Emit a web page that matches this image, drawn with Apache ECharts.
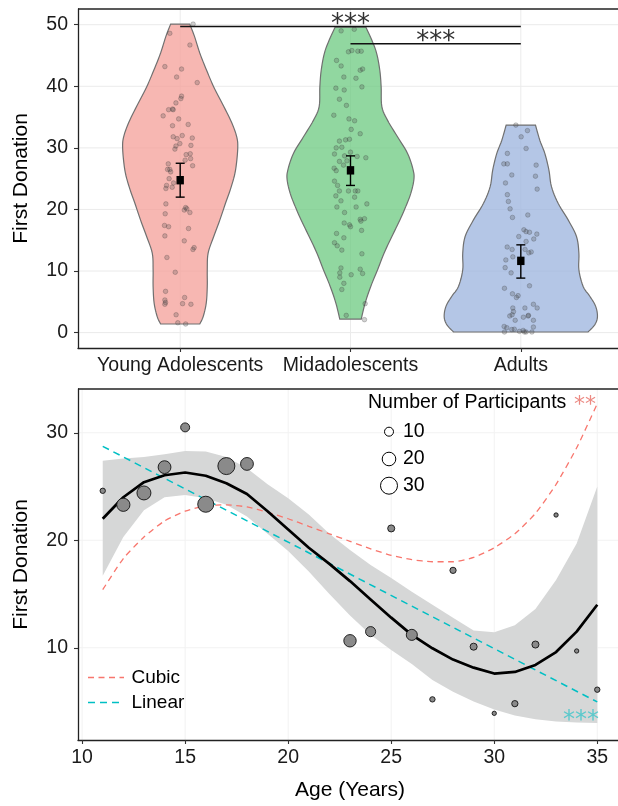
<!DOCTYPE html>
<html><head><meta charset="utf-8">
<script src="https://cdn.jsdelivr.net/npm/echarts@6/dist/echarts.min.js"></script>
<style>html,body{margin:0;padding:0;background:#fff;overflow:hidden}#c{width:626px;height:806px}</style>
</head><body><div id="c"></div>
<script>
// ================= TOP PANEL DATA =================
const groups = ['Young Adolescents', 'Midadolescents', 'Adults'];
const yTicksTop = [0, 10, 20, 30, 40, 50];
// violin half-width profiles [value, half width in category units]
const violinYoung = [[1.4,0.115],[2.6,0.135],[4.8,0.153],[7.5,0.159],[10.2,0.159],[12.9,0.164],[15.6,0.197],[18.3,0.233],[21,0.266],[23.7,0.3],[26.4,0.325],[30,0.338],[32,0.33],[34.5,0.296],[37.2,0.247],[39.9,0.197],[42.6,0.155],[45.4,0.115],[48.1,0.084],[50.1,0.056]];
const violinMid = [[2.2,0.063],[4.8,0.086],[7.5,0.119],[10.2,0.159],[12.9,0.197],[15.6,0.243],[18.3,0.29],[20.5,0.325],[22.6,0.354],[24.8,0.372],[26.4,0.368],[29.1,0.335],[31.8,0.276],[34.5,0.217],[36.7,0.184],[39.9,0.18],[42.6,0.172],[45.4,0.153],[47.5,0.125],[49.6,0.09]];
const violinAdult = [[0.1,0.395],[1.3,0.435],[2.6,0.45],[4.3,0.439],[5.9,0.405],[7.5,0.366],[10.2,0.341],[12.9,0.341],[15.6,0.327],[18.3,0.278],[21,0.219],[23.7,0.18],[26.4,0.165],[29.1,0.141],[31.2,0.112],[33.7,0.086]];
// jittered individual donations [jitter offset, value]
const youngPts = [[0.076,50.1],[-0.061,48.6],[0.057,46.7],[-0.09,43.2],[0.008,42.8],[-0.021,41.5],[0.1,40.6],[0.008,38.4],[0.004,38.0],[-0.025,37.3],[-0.045,36.3],[-0.068,36.2],[-0.041,36.2],[-0.1,35.2],[-0.009,34.7],[-0.045,33.6],[0.047,33.8],[-0.041,31.8],[-0.018,31.5],[0.012,32.0],[0.071,31.6],[-0.002,30.7],[0.063,30.4],[-0.025,30.3],[-0.031,29.8],[0.035,28.9],[0.059,29.05],[0.061,28.25],[0.029,28.0],[0.073,27.1],[-0.07,27.4],[-0.061,26.5],[-0.074,26.5],[-0.056,26.1],[-0.065,25.0],[-0.039,24.3],[-0.08,23.9],[-0.047,23.6],[-0.084,23.4],[-0.084,20.9],[0.032,20.3],[0.039,20.1],[0.024,19.9],[0.057,19.5],[-0.088,19.3],[-0.092,17.4],[-0.068,17.2],[0.049,16.9],[-0.09,15.7],[0.024,14.9],[0.082,13.8],[0.075,13.5],[-0.078,12.2],[-0.029,9.8],[-0.086,6.7],[0.026,5.7],[-0.09,5.3],[-0.086,4.9],[-0.09,4.6],[0.014,4.7],[0.063,4.6],[-0.024,2.9],[-0.014,1.6],[0.032,1.4]];
const midPts = [[-0.055,49.0],[0.022,49.25],[-0.012,45.6],[0.008,45.8],[0.043,45.7],[0.063,45.7],[-0.082,44.2],[-0.055,43.3],[0.057,42.6],[0.071,42.8],[-0.039,41.5],[0.032,41.3],[-0.086,39.7],[-0.037,39.4],[0.067,39.9],[-0.065,37.9],[-0.024,36.9],[-0.098,35.3],[-0.009,34.7],[0.024,34.4],[0.004,33.0],[0.057,32.3],[-0.065,31.1],[-0.029,31.3],[-0.006,31.4],[-0.051,30.1],[-0.084,30.0],[0.0,29.3],[-0.094,29.0],[-0.035,28.7],[0.039,28.6],[0.09,28.4],[-0.065,27.8],[-0.096,26.7],[-0.084,26.3],[-0.041,27.2],[-0.021,27.9],[-0.094,24.6],[-0.076,23.9],[-0.065,23.0],[-0.086,22.2],[-0.012,23.0],[0.028,23.0],[0.043,23.0],[-0.056,21.4],[0.024,22.0],[-0.08,20.4],[0.033,20.4],[0.096,20.9],[-0.035,19.5],[0.057,18.4],[0.082,18.5],[0.061,18.1],[-0.006,17.5],[0.0,17.2],[-0.037,17.8],[0.065,16.6],[-0.082,16.1],[-0.039,15.4],[-0.094,14.6],[-0.078,14.1],[-0.051,13.4],[0.067,12.8],[-0.056,10.5],[-0.063,9.7],[0.057,10.3],[0.071,9.6],[0.004,9.4],[-0.063,9.0],[-0.039,8.0],[-0.051,7.0],[0.086,4.7],[-0.025,2.8],[0.082,2.1]];
const adultPts = [[-0.029,33.7],[0.039,32.8],[0.002,31.8],[0.031,29.9],[-0.079,29.1],[-0.1,27.4],[-0.079,27.4],[0.09,27.2],[-0.053,25.6],[0.086,25.4],[-0.09,24.3],[0.096,23.3],[-0.079,22.4],[-0.073,21.3],[-0.063,20.1],[0.041,19.1],[-0.049,18.7],[0.018,16.7],[0.031,16.4],[0.051,16.3],[0.094,16.0],[-0.012,15.6],[0.076,15.2],[0.031,14.8],[-0.08,13.9],[-0.051,13.5],[0.025,13.5],[0.061,13.1],[0.047,12.95],[-0.047,12.3],[-0.088,11.8],[-0.092,10.55],[-0.057,9.7],[0.051,7.6],[-0.096,7.2],[-0.049,6.3],[-0.016,6.0],[-0.026,5.7],[-0.047,4.0],[-0.043,3.4],[0.024,4.0],[0.096,4.0],[0.074,4.6],[0.045,2.8],[-0.051,2.9],[-0.065,2.7],[0.043,2.7],[0.015,2.5],[-0.033,2.0],[0.074,2.0],[-0.098,1.0],[-0.082,0.8],[-0.038,0.55],[-0.053,0.5],[0.074,0.9],[-0.096,0.1],[-0.008,0.2],[0.014,0.35],[0.021,0.1],[0.031,0.1],[0.065,0.1]];
const groupMeans = [24.75, 26.35, 11.65];
const groupLower = [22.0, 23.9, 8.85];
const groupUpper = [27.5, 28.7, 14.25];
const sigFrom = [1, 2];
const sigTo = [3, 3];
const sigY = [49.7, 46.9];
const sigLabel = ['***', '***'];

// ================= BOTTOM PANEL DATA =================
const ages = [11,12,13,14,15,16,17,18,23,24,25,26,27,28,29,30,31,32,33,34,35];
const meanDonation = [24.6,23.3,24.4,26.8,30.5,23.35,26.9,27.1,10.65,11.5,21.1,11.2,5.2,17.2,10.1,3.9,4.8,10.3,22.35,9.7,6.1];
const nParticipants = [5,19,21,18,10,27,30,18,17,12,7,14,5,6,7,4,6,7,4,4,5];
const fitAges = [11,12,13,14,15,16,17,18,19,20,21,22,23,24,25,26,27,28,29,30,31,32,33,34,35];
const loessFit = [22.0,24.0,25.4,26.05,26.3,26.0,25.3,24.3,22.7,21.0,19.3,17.8,16.2,14.5,12.8,11.2,9.95,8.9,8.15,7.6,7.75,8.4,9.6,11.5,14.0];
const loessLower = [16.7,20.3,22.8,24.0,24.2,23.9,23.3,22.2,20.6,19.0,17.1,15.0,13.0,11.2,9.8,8.5,7.0,5.9,5.0,4.25,3.7,3.35,3.15,3.05,3.0];
const loessUpper = [27.4,27.6,27.75,28.0,28.3,28.25,27.75,26.7,25.2,23.9,22.4,20.6,19.1,17.7,16.5,15.2,14.0,12.8,11.6,11.45,12.1,13.6,16.3,19.7,25.0];
const cubicFit = [15.4,18.3,20.3,21.8,22.7,23.2,23.3,23.1,22.6,22.0,21.3,20.6,19.9,19.2,18.6,18.2,18.0,18.0,18.4,19.3,20.6,22.5,25.2,28.6,32.7];
const linearAges = [11, 35];
const linearFit = [28.74, 4.96];
const xTicksBottom = [10,15,20,25,30,35];
const yTicksBottom = [10,20,30];
const sizeLegend = [10,20,30];

// ================= STYLE =================
const FONT = "'Liberation Sans', Arial, Helvetica, sans-serif";
const violinFill = ['rgba(244,159,152,0.75)','rgba(108,202,128,0.75)','rgba(155,179,222,0.75)'];
const violins = [violinYoung, violinMid, violinAdult];
const jitters = [youngPts, midPts, adultPts];
const sizeFn = n => Math.sqrt(Math.max(10.4 * n - 23, 9));

function spline(pts, steps) {
  const out = [];
  for (let i = 0; i < pts.length - 1; i++) {
    const p0 = pts[Math.max(i - 1, 0)], p1 = pts[i], p2 = pts[i + 1], p3 = pts[Math.min(i + 2, pts.length - 1)];
    for (let s = 0; s < steps; s++) {
      const t = s / steps, t2 = t * t, t3 = t2 * t;
      out.push([0, 1].map(k => 0.5 * ((2 * p1[k]) + (-p0[k] + p2[k]) * t + (2 * p0[k] - 5 * p1[k] + 4 * p2[k] - p3[k]) * t2 + (-p0[k] + 3 * p1[k] - 3 * p2[k] + p3[k]) * t3)));
    }
  }
  out.push(pts[pts.length - 1]);
  return out;
}

const chart = echarts.init(document.getElementById('c'), null, {renderer: 'canvas'});

const axisLineStyle = {color: '#222', width: 1.3};
const tickStyle = {color: '#333', width: 1.1};
const labelBase = {fontFamily: FONT, fontSize: 19.5, color: '#1a1a1a'};

function gridLineSeries(xi, yi, values, dir, color) {
  return {
    type: 'custom', xAxisIndex: xi, yAxisIndex: yi, silent: true, z: 0,
    data: values.map(v => [v]),
    renderItem: (params, api) => {
      const cs = params.coordSys;
      const v = api.value(0);
      if (dir === 'h') {
        const y = api.coord([xi === 0 ? 1 : 20, v])[1];
        return {type: 'line', shape: {x1: cs.x, y1: y, x2: cs.x + cs.width, y2: y}, style: {stroke: color, lineWidth: 1}};
      } else {
        const x = api.coord([v, 10])[0];
        return {type: 'line', shape: {x1: x, y1: cs.y, x2: x, y2: cs.y + cs.height}, style: {stroke: color, lineWidth: 1}};
      }
    }
  };
}
function topBorderSeries(xi, yi) {
  return {
    type: 'custom', xAxisIndex: xi, yAxisIndex: yi, silent: true, z: 5, clip: false,
    data: [[0]],
    renderItem: (params) => {
      const cs = params.coordSys;
      return {type: 'line', shape: {x1: cs.x, y1: cs.y, x2: cs.x + cs.width, y2: cs.y}, style: {stroke: '#222', lineWidth: 1.3}};
    }
  };
}

const series = [];
// top grid lines
series.push(gridLineSeries(0, 0, yTicksTop, 'h', '#ebebeb'));
series.push(gridLineSeries(0, 0, [1, 2, 3], 'v', '#ebebeb'));
series.push(topBorderSeries(0, 0));
// violins
series.push({
  type: 'custom', xAxisIndex: 0, yAxisIndex: 0, silent: true, z: 1,
  data: [[0], [1], [2]],
  renderItem: (params, api) => {
    const gi = api.value(0);
    const prof = violins[gi];
    const cx = gi + 1;
    const left = prof.map(([y, w]) => api.coord([cx - w, y]));
    const right = prof.map(([y, w]) => api.coord([cx + w, y])).reverse();
    const pts = spline(left, 6).concat(spline(right, 6));
    return {type: 'polygon', shape: {points: pts}, style: {fill: violinFill[gi], stroke: '#707070', lineWidth: 1.2}};
  }
});
// jitter points
series.push({
  type: 'scatter', xAxisIndex: 0, yAxisIndex: 0, silent: true, z: 2,
  symbolSize: 4.6,
  itemStyle: {color: 'rgba(80,80,80,0.33)', borderColor: 'rgba(40,40,40,0.4)', borderWidth: 0.7},
  data: jitters.flatMap((pts, gi) => pts.map(([dx, y]) => [gi + 1 + dx, y]))
});
// means with error bars
series.push({
  type: 'custom', xAxisIndex: 0, yAxisIndex: 0, silent: true, z: 3,
  data: groupMeans.map((m, i) => [i + 1, m, groupLower[i], groupUpper[i]]),
  renderItem: (params, api) => {
    const x = api.value(0);
    const pm = api.coord([x, api.value(1)]), pl = api.coord([x, api.value(2)]), ph = api.coord([x, api.value(3)]);
    const st = {stroke: '#000', lineWidth: 1.4};
    return {type: 'group', children: [
      {type: 'line', shape: {x1: pl[0], y1: pl[1], x2: ph[0], y2: ph[1]}, style: st},
      {type: 'line', shape: {x1: ph[0] - 4.5, y1: ph[1], x2: ph[0] + 4.5, y2: ph[1]}, style: st},
      {type: 'line', shape: {x1: pl[0] - 4.5, y1: pl[1], x2: pl[0] + 4.5, y2: pl[1]}, style: st},
      {type: 'rect', shape: {x: pm[0] - 3.7, y: pm[1] - 4.2, width: 7.4, height: 8.4}, style: {fill: '#000'}}
    ]};
  }
});
// significance bars
series.push({
  type: 'custom', xAxisIndex: 0, yAxisIndex: 0, silent: true, z: 3,
  data: sigY.map((y, i) => [sigFrom[i], sigTo[i], y, i]),
  renderItem: (params, api) => {
    const a = api.coord([api.value(0), api.value(2)]);
    const b = api.coord([api.value(1), api.value(2)]);
    return {type: 'group', children: [
      {type: 'line', shape: {x1: a[0], y1: a[1], x2: b[0], y2: b[1]}, style: {stroke: '#111', lineWidth: 1.5}},
      {type: 'text', x: (a[0] + b[0]) / 2, y: a[1] - 1.5, style: {text: sigLabel[api.value(3)], font: "26px 'DejaVu Sans'", fill: '#333', textAlign: 'center', textVerticalAlign: 'middle'}}
    ]};
  }
});

// bottom grid lines
series.push(gridLineSeries(1, 1, yTicksBottom, 'h', '#f2f2f2'));
series.push(gridLineSeries(1, 1, xTicksBottom, 'v', '#f2f2f2'));
series.push(topBorderSeries(1, 1));
// loess confidence band
series.push({
  type: 'custom', xAxisIndex: 1, yAxisIndex: 1, silent: true, z: 1, clip: true,
  data: [[0]],
  renderItem: (params, api) => {
    const up = fitAges.map((a, i) => api.coord([a, loessUpper[i]]));
    const lo = fitAges.map((a, i) => api.coord([a, loessLower[i]])).reverse();
    return {type: 'polygon', shape: {points: up.concat(lo)}, style: {fill: '#d6d7d7'}};
  }
});
// cubic
series.push({
  type: 'line', xAxisIndex: 1, yAxisIndex: 1, silent: true, z: 2, symbol: 'none', smooth: 0.2,
  data: fitAges.map((a, i) => [a, cubicFit[i]]),
  lineStyle: {color: '#F8766D', width: 1.3, type: [6, 4.5]}
});
// linear
series.push({
  type: 'line', xAxisIndex: 1, yAxisIndex: 1, silent: true, z: 2, symbol: 'none',
  data: linearAges.map((a, i) => [a, linearFit[i]]),
  lineStyle: {color: '#00BFC4', width: 1.5, type: [7, 5]}
});
// loess
series.push({
  type: 'line', xAxisIndex: 1, yAxisIndex: 1, silent: true, z: 3, symbol: 'none',
  data: fitAges.map((a, i) => [a, loessFit[i]]),
  lineStyle: {color: '#000', width: 2.7}
});
// bubbles
series.push({
  type: 'scatter', xAxisIndex: 1, yAxisIndex: 1, silent: true, z: 4,
  data: ages.map((a, i) => [a, meanDonation[i], nParticipants[i]]),
  symbolSize: d => sizeFn(d[2]),
  itemStyle: {color: '#8a8a8a', borderColor: '#111', borderWidth: 0.9, opacity: 1}
});

// ---- legends / annotations as graphics ----
const graphics = [];
graphics.push({type: 'text', z: 100, left: 368, top: 393, style: {text: 'Number of Participants', font: `19.5px ${FONT}`, fill: '#000'}});
const legY = [431.7, 459, 485.7];
sizeLegend.forEach((v, i) => {
  graphics.push({type: 'circle', z: 100, shape: {cx: 389, cy: legY[i], r: sizeFn(v) / 2}, style: {fill: '#fff', stroke: '#000', lineWidth: 1}});
  graphics.push({type: 'text', z: 100, x: 403, y: legY[i], style: {text: String(v), font: `19.5px ${FONT}`, fill: '#000', textVerticalAlign: 'middle'}});
});
graphics.push({type: 'text', z: 100, x: 596, y: 405, style: {text: '**', font: "22px 'DejaVu Sans'", fill: '#EC8A83', textAlign: 'right', textVerticalAlign: 'middle'}});
graphics.push({type: 'text', z: 100, x: 599, y: 721, style: {text: '***', font: "24px 'DejaVu Sans'", fill: '#5BC9CC', textAlign: 'right', textVerticalAlign: 'middle'}});
const fitLegend = [['Cubic', '#F8766D', 677.5, [6, 4.5], 1.4], ['Linear', '#00BFC4', 702.5, [7, 5], 1.5]];
fitLegend.forEach(([t, c, y, dash, w]) => {
  graphics.push({type: 'line', z: 100, shape: {x1: 88, y1: y, x2: 124, y2: y}, style: {stroke: c, lineWidth: w, lineDash: dash}});
  graphics.push({type: 'text', z: 100, x: 131.5, y: y, style: {text: t, font: `19px ${FONT}`, fill: '#000', textVerticalAlign: 'middle'}});
});

const option = {
  animation: false,
  backgroundColor: '#fff',
  grid: [
    {left: 78, top: 9, width: 545, height: 339, show: false},
    {left: 78, top: 389, width: 544, height: 351, show: false}
  ],
  xAxis: [
    {gridIndex: 0, type: 'value', min: 0.4, max: 3.6,
      axisLine: {show: true, onZero: false, lineStyle: axisLineStyle},
      axisTick: {show: true, customValues: [1, 2, 3], length: 4, lineStyle: tickStyle},
      axisLabel: {show: true, customValues: [1, 2, 3], formatter: v => groups[Math.round(v) - 1], margin: 8, ...labelBase},
      splitLine: {show: false}},
    {gridIndex: 1, type: 'value', min: 9.8, max: 36.2,
      axisLine: {show: true, onZero: false, lineStyle: axisLineStyle},
      axisTick: {show: true, customValues: xTicksBottom, length: 4, lineStyle: tickStyle},
      axisLabel: {show: true, customValues: xTicksBottom, margin: 8, ...labelBase},
      splitLine: {show: false},
      name: 'Age (Years)', nameLocation: 'middle', nameGap: 40,
      nameTextStyle: {fontFamily: FONT, fontSize: 21, color: '#000'}}
  ],
  yAxis: [
    {gridIndex: 0, type: 'value', min: -2.5, max: 52.55,
      axisLine: {show: true, onZero: false, lineStyle: axisLineStyle},
      axisTick: {show: true, customValues: yTicksTop, length: 4, lineStyle: tickStyle},
      axisLabel: {show: true, customValues: yTicksTop, margin: 10, ...labelBase},
      splitLine: {show: false},
      name: 'First Donation', nameLocation: 'middle', nameGap: 46,
      nameTextStyle: {fontFamily: FONT, fontSize: 21, color: '#000'}},
    {gridIndex: 1, type: 'value', min: 1.42, max: 34.07,
      axisLine: {show: true, onZero: false, lineStyle: axisLineStyle},
      axisTick: {show: true, customValues: yTicksBottom, length: 4, lineStyle: tickStyle},
      axisLabel: {show: true, customValues: yTicksBottom, margin: 10, ...labelBase},
      splitLine: {show: false},
      name: 'First Donation', nameLocation: 'middle', nameGap: 46,
      nameTextStyle: {fontFamily: FONT, fontSize: 21, color: '#000'}}
  ],
  series: series,
  graphic: graphics
};
chart.setOption(option);
</script>
</body></html>
